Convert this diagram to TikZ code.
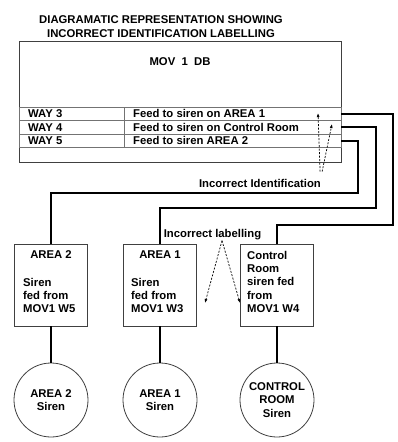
\documentclass[tikz,border=0pt]{standalone}
\usepackage{fontspec}
\setmainfont{Liberation Sans}
\usetikzlibrary{arrows.meta}

\begin{document}
\begin{tikzpicture}[x=1pt,y=-1pt,
   every node/.style={font=\bfseries\fontsize{11.3}{13.3}\selectfont,inner sep=0pt},
   frame/.style={draw=black!75,line width=0.8pt},
   cell/.style={draw=black!55,line width=0.7pt},
   wire/.style={line width=1.8pt,color=black},
   link/.style={line width=1.3pt,color=black},
   note/.style={-{Latex[length=4pt,width=3pt]},dash pattern=on 2pt off 1.5pt,line width=0.7pt}]
   \useasboundingbox (0,0) rectangle (398,442);
   \node[align=center] (title) at (161,26.5) {DIAGRAMATIC REPRESENTATION SHOWING\\INCORRECT IDENTIFICATION LABELLING};
   \node[frame,minimum width=322pt,minimum height=121pt] (db) at (180,101.5) {};
   \node (dbname) at (180,62) {MOV~~1~~DB};
   \foreach \way/\feed/\y in {3/{Feed to siren on AREA 1}/113.75,
      4/{Feed to siren on Control Room}/127.25,5/{Feed to siren AREA 2}/140.75} {
      \node[cell,minimum width=322pt,minimum height=13.5pt] (row\way) at (180,\y) {};
      \node[anchor=west] (way\way) at (28,\y) {WAY \way};
      \node[anchor=west] (feed\way) at (133,\y) {\feed};
   }
   \draw[cell] (124,107) -- (124,147.5);
   \foreach \name/\x in {area2/51,area1/160,ctrl/277}
      \node[frame,minimum width=73pt,minimum height=82pt] (\name) at (\x,285) {};
   \node (area2title) at (51,255) {AREA 2};
   \node[align=left,anchor=north west] (area2text) at (23,278) {Siren\\fed from\\MOV1 W5};
   \node (area1title) at (160,255) {AREA 1};
   \node[align=left,anchor=north west] (area1text) at (131,278) {Siren\\fed from\\MOV1 W3};
   \node[align=left,anchor=north west] (ctrltext) at (247,251) {Control\\Room\\siren fed\\from\\MOV1 W4};
   \node[frame,circle,minimum size=74pt,align=center] (area2siren) at (51,400) {AREA 2\\Siren};
   \node[frame,circle,minimum size=74pt,align=center] (area1siren) at (160,400) {AREA 1\\Siren};
   \node[frame,circle,minimum size=74pt,align=center] (ctrlsiren) at (277,400) {CONTROL\\ROOM\\Siren};
   \draw[wire] (row3.east) -| (393,225) -| (ctrl.north);
   \draw[wire] (row4.east) -| (376,208) -| (area1.north);
   \draw[wire] (row5.east) -| (358,193) -| (area2.north);
   \draw[link] (area2.south) -- (area2siren.north);
   \draw[link] (area1.south) -- (area1siren.north);
   \draw[link] (ctrl.south) -- (ctrlsiren.north);
   \node (ident) at (260,183) {Incorrect Identification};
   \coordinate (tip3) at (318,113);
   \coordinate (tip4) at (332,124);
   \draw[note] ([xshift=-1pt,yshift=7pt]ident.north east) -- (tip3);
   \draw[note] ([xshift=1pt,yshift=7pt]ident.north east) -- (tip4);
   \node[anchor=base] (mislabel) at (212.5,237) {Incorrect labelling};
   \coordinate (tiparea1) at (205,303);
   \coordinate (tipctrl) at (240,303);
   \draw[note] ([xshift=9.5pt,yshift=-1pt]mislabel.south) -- (tiparea1);
   \draw[note] ([xshift=9.5pt,yshift=-1pt]mislabel.south) -- (tipctrl);
\end{tikzpicture}
\end{document}
